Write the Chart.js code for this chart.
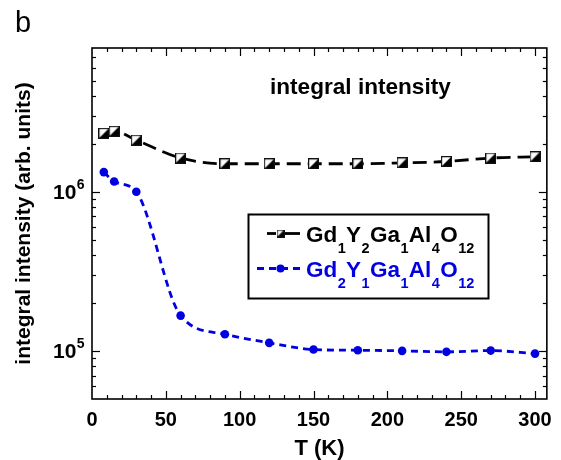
<!DOCTYPE html>
<html><head><meta charset="utf-8">
<script src="https://cdn.jsdelivr.net/npm/chart.js@4.4.1/dist/chart.umd.min.js"></script>
<style>html,body{margin:0;padding:0;background:#fff;} canvas{display:block;}</style>
</head><body>
<canvas id="c" width="561" height="460"></canvas>
<script>
// ---- data ----
const temperatures = [8, 15, 30, 60, 90, 120, 150, 180, 210, 240, 270, 300];
const gd1y2Values = [2.33e6, 2.40e6, 2.11e6, 1.63e6, 1.50e6, 1.50e6, 1.50e6, 1.50e6, 1.52e6, 1.55e6, 1.63e6, 1.66e6];
const gd2y1Values = [1.33e6, 1.16e6, 1.00e6, 1.67e5, 1.275e5, 1.126e5, 1.022e5, 1.012e5, 1.003e5, 0.989e5, 1.007e5, 0.964e5];
const xTickLabels = [0, 50, 100, 150, 200, 250, 300];
const yTickValues = [1e5, 1e6];
const yTickLabels = [['10', '5'], ['10', '6']];
const series1Name = [['Gd', '1'], ['Y', '2'], ['Ga', '1'], ['Al', '4'], ['O', '12']];
const series2Name = [['Gd', '2'], ['Y', '1'], ['Ga', '1'], ['Al', '4'], ['O', '12']];
const panelLabel = 'b';
const innerTitle = 'integral intensity';
const xTitle = 'T (K)';
const yTitle = 'integral intensity (arb. units)';

const FONT = '"Liberation Sans", Arial, Helvetica, sans-serif';
const BLUE = '#0000e0';

function makeSquare(size) {
  const c = document.createElement('canvas');
  c.width = size; c.height = size;
  const g = c.getContext('2d');
  g.fillStyle = '#fff'; g.fillRect(0, 0, size, size);
  g.fillStyle = '#000';
  g.beginPath(); g.moveTo(size, 0); g.lineTo(size, size); g.lineTo(0, size); g.closePath(); g.fill();
  g.strokeStyle = '#111'; g.lineWidth = 1.2;
  g.strokeRect(0.6, 0.6, size - 1.2, size - 1.2);
  return c;
}
const squareMarker = makeSquare(11);
const squareMarkerSmall = makeSquare(8);

function drawFormula(ctx, parts, x, y, color) {
  ctx.fillStyle = color;
  ctx.textBaseline = 'alphabetic';
  ctx.textAlign = 'left';
  let cx = x;
  for (const [main, sub] of parts) {
    ctx.font = 'bold 22.5px ' + FONT;
    ctx.fillText(main, cx, y);
    cx += ctx.measureText(main).width;
    ctx.font = 'bold 14.5px ' + FONT;
    ctx.fillText(sub, cx + 0.5, y + 11);
    cx += ctx.measureText(sub).width + 0.8;
  }
}

const deco = {
  id: 'deco',
  beforeDatasetsDraw(chart) {
    const { ctx, chartArea: a, scales: { x, y } } = chart;
    ctx.save();
    ctx.strokeStyle = '#000';
    ctx.lineWidth = 1.2;
    const line = (x1, y1, x2, y2) => { ctx.beginPath(); ctx.moveTo(x1, y1); ctx.lineTo(x2, y2); ctx.stroke(); };
    for (let v = 10; v <= x.max; v += 10) {
      const px = Math.round(x.getPixelForValue(v)) + 0.5;
      const len = v % 50 === 0 ? 8 : 4;
      line(px, a.bottom, px, a.bottom - len);
      line(px, a.top, px, a.top + len);
    }
    for (let d = 4; d <= 6; d++) {
      for (let m = 1; m <= 9; m++) {
        const v = m * Math.pow(10, d);
        if (v <= y.min || v >= y.max) continue;
        const py = Math.round(y.getPixelForValue(v)) + 0.5;
        const len = m === 1 ? 8 : 4;
        line(a.left, py, a.left + len, py);
        line(a.right, py, a.right - len, py);
      }
    }
    ctx.lineWidth = 1.6;
    ctx.strokeRect(a.left, a.top, a.right - a.left, a.bottom - a.top);
    ctx.restore();
  },
  afterDraw(chart) {
    const { ctx, scales: { y } } = chart;
    ctx.save();
    // y tick labels with superscripts
    yTickValues.forEach((v, i) => {
      const py = y.getPixelForValue(v);
      const [base, exp] = yTickLabels[i];
      ctx.fillStyle = '#000';
      ctx.textAlign = 'left';
      ctx.textBaseline = 'alphabetic';
      ctx.font = 'bold 21px ' + FONT;
      const bx = 53;
      ctx.fillText(base, bx, py + 7);
      const w = ctx.measureText(base).width;
      ctx.font = 'bold 14px ' + FONT;
      ctx.fillText(exp, bx + w + 0.5, py - 3);
    });
    // panel label
    ctx.font = '29px ' + FONT;
    ctx.fillStyle = '#000';
    ctx.fillText(panelLabel, 15, 32);
    // inner title
    ctx.font = 'bold 22.6px ' + FONT;
    ctx.fillText(innerTitle, 270, 94);
    // legend box
    ctx.lineWidth = 2;
    ctx.strokeStyle = '#000';
    ctx.strokeRect(248.5, 214.5, 240, 84);
    // legend row 1
    const r1 = 233.5;
    ctx.lineWidth = 2.8;
    ctx.beginPath(); ctx.moveTo(267, r1); ctx.lineTo(276, r1); ctx.stroke();
    ctx.beginPath(); ctx.moveTo(285, r1); ctx.lineTo(300, r1); ctx.stroke();
    ctx.drawImage(squareMarkerSmall, 280.5 - 4, r1 - 4);
    drawFormula(ctx, series1Name, 306, 242, '#000');
    // legend row 2
    const r2 = 268.5;
    ctx.strokeStyle = BLUE;
    ctx.setLineDash([7, 5]);
    ctx.beginPath(); ctx.moveTo(257, r2); ctx.lineTo(302, r2); ctx.stroke();
    ctx.setLineDash([]);
    ctx.fillStyle = BLUE;
    ctx.beginPath(); ctx.arc(280.5, r2, 4, 0, Math.PI * 2); ctx.fill();
    drawFormula(ctx, series2Name, 306, 277, BLUE);
    ctx.restore();
  }
};

new Chart(document.getElementById('c'), {
  type: 'line',
  data: {
    datasets: [
      {
        label: 'Gd1Y2Ga1Al4O12',
        data: temperatures.map((t, i) => ({ x: t, y: gd1y2Values[i] })),
        borderColor: '#000',
        borderWidth: 2.8,
        borderDash: [14, 7],
        pointStyle: squareMarker,
        pointRadius: 5,
        cubicInterpolationMode: 'monotone',
        fill: false
      },
      {
        label: 'Gd2Y1Ga1Al4O12',
        data: temperatures.map((t, i) => ({ x: t, y: gd2y1Values[i] })),
        borderColor: BLUE,
        backgroundColor: BLUE,
        borderWidth: 2.8,
        borderDash: [7, 5],
        pointStyle: 'circle',
        pointRadius: 4.3,
        pointBorderWidth: 0,
        cubicInterpolationMode: 'monotone',
        fill: false
      }
    ]
  },
  options: {
    responsive: false,
    animation: false,
    devicePixelRatio: 1,
    clip: false,
    layout: { padding: { top: 48, right: 11, left: 0, bottom: 0 } },
    plugins: { legend: { display: false }, tooltip: { enabled: false }, title: { display: false } },
    scales: {
      x: {
        type: 'linear', min: 0, max: 308,
        grid: { display: false, drawTicks: false },
        border: { display: false },
        afterFit: s => { s.height = 61; },
        ticks: {
          stepSize: 50, includeBounds: false, padding: 9, color: '#000',
          font: { family: FONT, size: 20, weight: 'bold' },
          maxRotation: 0,
          callback: v => (xTickLabels.includes(v) ? String(v) : '')
        },
        title: { display: true, text: xTitle, color: '#000', font: { family: FONT, size: 22, weight: 'bold', lineHeight: 1 }, padding: { top: 0, bottom: 0 } }
      },
      y: {
        type: 'logarithmic', min: 5e4, max: 8e6,
        grid: { display: false, drawTicks: false },
        border: { display: false },
        afterFit: s => { s.width = 92; },
        ticks: { display: false },
        title: { display: true, text: yTitle, color: '#000', font: { family: FONT, size: 21, weight: 'bold', lineHeight: 1 }, padding: { top: 14, bottom: 0 } }
      }
    }
  },
  plugins: [deco]
});
</script>
</body></html>
